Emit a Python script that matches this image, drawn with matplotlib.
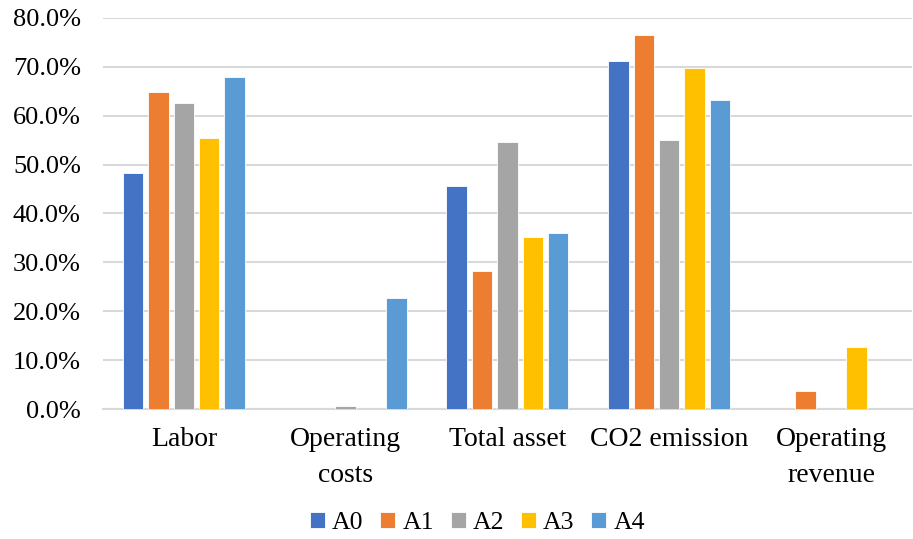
import numpy as np
import matplotlib
matplotlib.use('Agg')
import matplotlib.pyplot as plt
import matplotlib.ticker as mtick

plt.rcParams['font.family'] = ['Liberation Serif', 'DejaVu Serif']

categories = ['Labor', 'Operating\ncosts', 'Total asset', 'CO2 emission', 'Operating\nrevenue']
series_names = ['A0', 'A1', 'A2', 'A3', 'A4']
A0 = [48.2, 0.0, 45.6, 71.2, 0.0]
A1 = [64.9, 0.0, 28.2, 76.4, 3.7]
A2 = [62.6, 0.7, 54.7, 55.1, 0.0]
A3 = [55.4, 0.0, 35.2, 69.8, 12.7]
A4 = [67.8, 22.8, 36.1, 63.2, 0.0]
colors = ['#4472C4', '#ED7D31', '#A5A5A5', '#FFC000', '#5B9BD5']

fig = plt.figure(figsize=(9.13, 5.39), dpi=100)
ax = fig.add_axes([0.1128, 0.2406, 0.886, 0.7266])

x = np.arange(len(categories))
step = 0.157
barw = 0.126
for i, (name, vals) in enumerate(zip(series_names, [A0, A1, A2, A3, A4])):
    ax.bar(x + (i - 2) * step, vals, width=barw, color=colors[i], label=name,
           edgecolor='white', linewidth=0.6, zorder=3)

ax.set_xlim(-0.5, len(categories) - 0.5)
ax.set_ylim(0, 80)
ax.yaxis.set_major_locator(mtick.MultipleLocator(10))
ax.yaxis.set_major_formatter(mtick.PercentFormatter(decimals=1))
ax.grid(axis='y', color='#D9D9D9', linewidth=1.5, zorder=0)
for s in ['top', 'right', 'left']:
    ax.spines[s].set_visible(False)
ax.spines['bottom'].set_color('#D9D9D9')
ax.spines['bottom'].set_linewidth(1.5)
ax.tick_params(axis='both', length=0, labelsize=19)
ax.tick_params(axis='y', pad=16)
ax.tick_params(axis='x', pad=13, labelsize=20)
ax.set_xticks(x)
ax.set_xticklabels(categories, linespacing=1.55, va='top')

fig.legend(loc='center', bbox_to_anchor=(0.523, 0.03), ncol=5, frameon=False,
           fontsize=18.5, handlelength=0.58, handleheight=0.58, handletextpad=0.28,
           columnspacing=0.65)

fig.savefig('out.png', dpi=100)
